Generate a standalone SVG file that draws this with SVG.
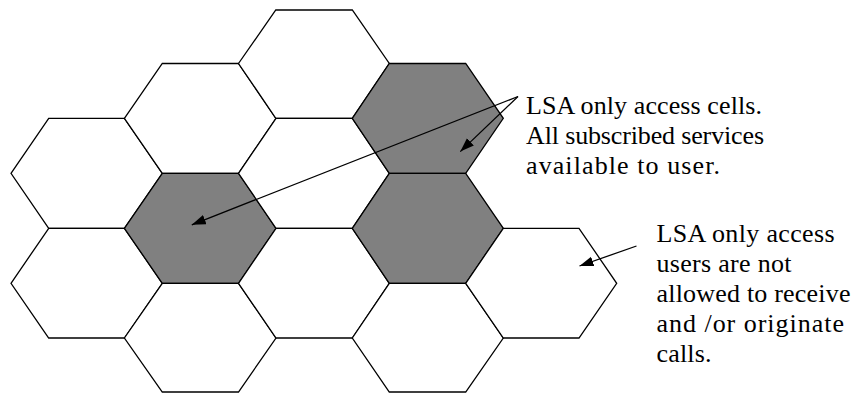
<svg xmlns="http://www.w3.org/2000/svg" width="856" height="396" viewBox="0 0 856 396">
  <style>
    .cell { fill: #ffffff; stroke: #000000; stroke-width: 1.3; stroke-linejoin: miter; }
    .lsa { fill: #808080; }
    .conn { fill: none; stroke: #000000; stroke-width: 1.3; marker-end: url(#arrow); }
    .label { font-family: "Liberation Serif", "Times New Roman", serif; font-size: 26px; fill: #000000; }
  </style>
  <defs>
    <marker id="arrow" markerUnits="userSpaceOnUse" markerWidth="16" markerHeight="12" refX="14" refY="5" orient="auto">
      <path d="M0,0 L14,5 L0,10 Z" fill="#000000"/>
    </marker>
  </defs>
  <rect width="856" height="396" fill="#ffffff"/>

  <g id="cells">
    <g id="cell-c1-r1"><polygon class="cell" points="11,173.3 48.7,118.3 124.4,118.3 162.3,173.3 124.4,228.3 48.7,228.3"/></g>
    <g id="cell-c1-r2"><polygon class="cell" points="11,283.3 48.7,228.3 124.4,228.3 162.3,283.3 124.4,338 48.7,338"/></g>

    <g id="cell-c2-r1"><polygon class="cell" points="124.4,118.3 162.3,63.5 238.5,63.5 276,118.3 238.5,173.3 162.3,173.3"/></g>
    <g id="cell-c2-r2"><polygon class="cell lsa" points="124.4,228.3 162.3,173.3 238.5,173.3 276,228.3 238.5,283.3 162.3,283.3"/></g>
    <g id="cell-c2-r3"><polygon class="cell" points="124.4,338 162.3,283.3 238.5,283.3 276,338 238.5,392 162.3,392"/></g>

    <g id="cell-c3-r0"><polygon class="cell" points="238.5,63.5 275.8,10 352.3,10 389.3,63.5 352.3,118.3 275.8,118.3"/></g>
    <g id="cell-c3-r1"><polygon class="cell" points="238.5,173.3 276,118.3 352.3,118.3 389.3,173.3 352.3,228.3 276,228.3"/></g>
    <g id="cell-c3-r2"><polygon class="cell" points="238.5,283.3 276,228.3 352.3,228.3 389.3,283.3 352.3,338 276,338"/></g>

    <g id="cell-c4-r1"><polygon class="cell lsa" points="352.3,118.3 389.3,63.5 465.7,63.5 503.3,118.3 465.7,173.3 389.3,173.3"/></g>
    <g id="cell-c4-r2"><polygon class="cell lsa" points="352.3,228.3 389.3,173.3 465.7,173.3 503.3,228.3 465.7,283.3 389.3,283.3"/></g>
    <g id="cell-c4-r3"><polygon class="cell" points="352.3,338 389.3,283.3 465.7,283.3 503.3,338 465.7,392 389.3,392"/></g>

    <g id="cell-c5-r2"><polygon class="cell" points="465.7,283.3 503.3,228.3 579,228.3 616.7,283.3 579,338 503.3,338"/></g>
  </g>

  <g id="connectors">
    <line class="conn" x1="518" y1="96.5" x2="191.8" y2="224.8"/>
    <line class="conn" x1="518" y1="96.5" x2="460.3" y2="151.6"/>
    <line class="conn" x1="636.5" y1="246" x2="579.5" y2="266"/>
  </g>

  <g id="label-lsa-cells">
    <text class="label" x="526" y="113.5" textLength="236" lengthAdjust="spacing">LSA only access cells.</text>
    <text class="label" x="526" y="144" textLength="238" lengthAdjust="spacing">All subscribed services</text>
    <text class="label" x="526" y="174" textLength="194" lengthAdjust="spacing">available to user.</text>
  </g>

  <g id="label-lsa-users">
    <text class="label" x="656.5" y="241.7" textLength="178" lengthAdjust="spacing">LSA only access</text>
    <text class="label" x="656.5" y="271.7" textLength="135" lengthAdjust="spacing">users are not</text>
    <text class="label" x="656.5" y="301.7" textLength="194" lengthAdjust="spacing">allowed to receive</text>
    <text class="label" x="656.5" y="331.7" textLength="187.5" lengthAdjust="spacing">and /or originate</text>
    <text class="label" x="656.5" y="361.7" textLength="55" lengthAdjust="spacing">calls.</text>
  </g>
</svg>
